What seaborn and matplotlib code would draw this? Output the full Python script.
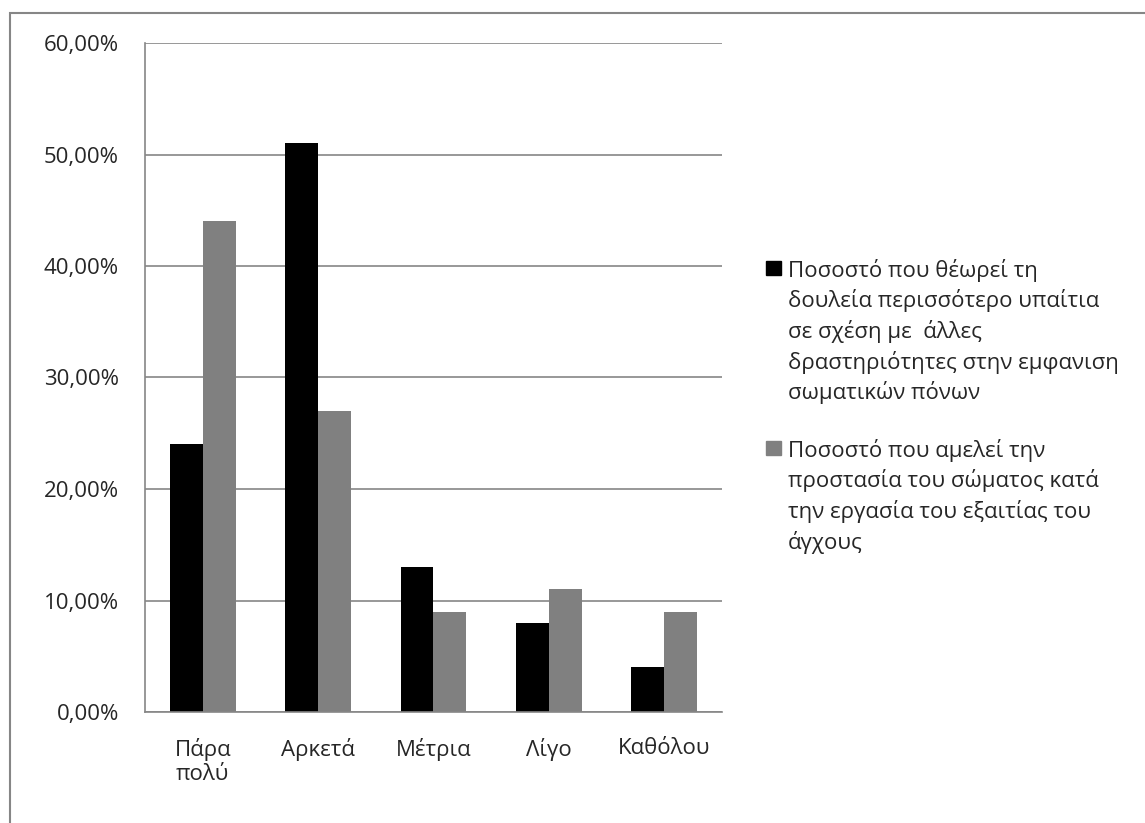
import pandas as pd
import numpy as np
import seaborn as sns
import matplotlib.pyplot as plt
from matplotlib.patches import Rectangle
from matplotlib.ticker import FuncFormatter, FixedLocator

categories = ["Πάρα\nπολύ", "Αρκετά", "Μέτρια", "Λίγο", "Καθόλου"]
series_names = [
    "Ποσοστό που θέωρεί τη\nδουλεία περισσότερο υπαίτια\nσε σχέση με  άλλες\nδραστηριότητες στην εμφανιση\nσωματικών πόνων",
    "Ποσοστό που αμελεί την\nπροστασία του σώματος κατά\nτην εργασία του εξαιτίας του\nάγχους",
]
series_colors = ["#000000", "#808080"]
blame_work = [0.24, 0.51, 0.13, 0.08, 0.04]
neglect_body = [0.44, 0.27, 0.09, 0.11, 0.09]

df = pd.DataFrame({
    "cat": categories * 2,
    "series": [series_names[0]] * 5 + [series_names[1]] * 5,
    "val": blame_work + neglect_body,
})

sns.set_style("white")
plt.rcParams["font.family"] = ["Open Sans", "DejaVu Sans"]
axis_col = "#868686"
fs = 16
W, H = 1145, 823

fig = plt.figure(figsize=(11.45, 8.23), dpi=100)
ax = fig.add_axes([145 / W, 1 - 712 / H, 577 / W, 669 / H])

sns.barplot(data=df, x="cat", y="val", hue="series", palette=series_colors,
            width=0.57, gap=0, saturation=1, ax=ax, errorbar=None, legend=False,
            linewidth=0)

ax.set_ylim(0, 0.6)
ax.set_xlim(-0.5, 4.5)
ax.set_yticks(np.arange(0, 0.61, 0.1))
ax.yaxis.set_major_formatter(FuncFormatter(lambda v, p: f"{v*100:.2f}%".replace(".", ",")))
ax.yaxis.grid(True, color=axis_col, linewidth=1.2)
ax.set_axisbelow(True)
ax.set_xlabel("")
ax.set_ylabel("")

for s in ["top", "right"]:
    ax.spines[s].set_visible(False)
for s in ["left", "bottom"]:
    ax.spines[s].set_color(axis_col)
    ax.spines[s].set_linewidth(1.2)

# ticks sit on category boundaries, labels in the middle
ax.xaxis.set_major_locator(FixedLocator(np.arange(-0.5, 5, 1)))
ax.xaxis.set_minor_locator(FixedLocator(np.arange(5)))
ax.set_xticklabels([""] * 6)
ax.set_xticklabels(categories, minor=True, linespacing=1.15)
ax.tick_params(axis="x", which="major", length=5.8, color=axis_col, width=1.2, direction="out")
ax.tick_params(axis="x", which="minor", length=0, labelsize=fs, pad=19)
ax.tick_params(axis="y", length=5.8, color=axis_col, width=1.2, direction="out",
               labelsize=fs, pad=13)

# legend drawn by hand so the swatch sits on the first line, like Excel
line_h = 30.5
y = 277
for name, col in zip(series_names, series_colors):
    fig.patches.append(Rectangle((766 / W, 1 - 275 / H - (y - 277) / H), 15 / W, 14 / H,
                                 transform=fig.transFigure, color=col))
    for line in name.split("\n"):
        fig.text(788 / W, 1 - y / H, line, fontsize=fs, va="baseline", ha="left")
        y += line_h
    y += 58 - line_h

# outer chart border (only left and top are inside the picture)
fig.patches.append(Rectangle((10 / W, -0.1), 1.2, 0.1 + (1 - 13 / H),
                             transform=fig.transFigure, fill=False,
                             edgecolor=axis_col, linewidth=1.5))

fig.savefig("out.png", dpi=100)
